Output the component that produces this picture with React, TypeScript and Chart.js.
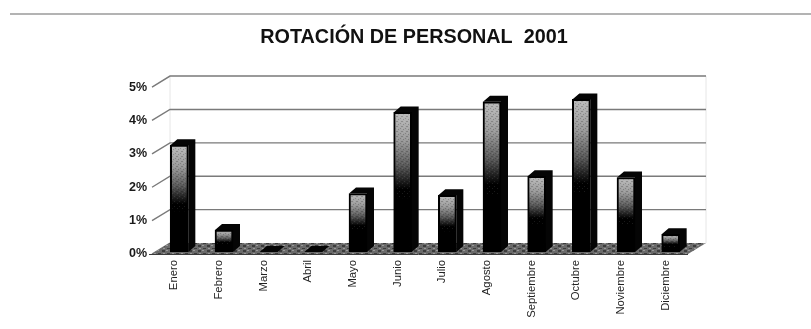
import React, { useEffect, useRef } from "react";
import { Chart, registerables } from "chart.js";

Chart.register(...registerables);

const months = [
  "Enero", "Febrero", "Marzo", "Abril", "Mayo", "Junio",
  "Julio", "Agosto", "Septiembre", "Octubre", "Noviembre", "Diciembre",
];
const rotation = [3.2, 0.66, 0, 0, 1.75, 4.18, 1.7, 4.5, 2.27, 4.57, 2.23, 0.53];
const percentTicks = [0, 1, 2, 3, 4, 5];
const chartTitle = "ROTACIÓN DE PERSONAL  2001";

// Oblique offsets of the pseudo-3D box
const wallDx = 18;
const wallDy = -11;
const barDx = 5;
const barDy = -2;
const barDepthX = 7;
const barDepthY = -6;

// Small repeating tiles for the speckled floor and bar faces
function makeFloorPattern(ctx: CanvasRenderingContext2D) {
  const tile = document.createElement("canvas");
  tile.width = 9;
  tile.height = 5;
  const t = tile.getContext("2d")!;
  t.fillStyle = "#6a6a6a";
  t.fillRect(0, 0, 9, 5);
  t.fillStyle = "#3c3c3c";
  t.fillRect(0, 0, 3, 2);
  t.fillRect(5, 3, 3, 1);
  t.fillStyle = "#999999";
  t.fillRect(4, 0, 2, 1);
  t.fillRect(1, 3, 2, 1);
  return ctx.createPattern(tile, "repeat");
}

function makeGrainPattern(ctx: CanvasRenderingContext2D) {
  const tile = document.createElement("canvas");
  tile.width = 5;
  tile.height = 5;
  const t = tile.getContext("2d")!;
  t.fillStyle = "rgba(0,0,0,0.2)";
  t.fillRect(0, 0, 1, 1);
  t.fillRect(3, 1, 1, 1);
  t.fillRect(1, 3, 2, 1);
  t.fillStyle = "rgba(255,255,255,0.1)";
  t.fillRect(2, 0, 1, 1);
  t.fillRect(4, 3, 1, 1);
  return ctx.createPattern(tile, "repeat");
}

const boxPlugin = {
  id: "obliqueBox",
  afterLayout(chart: any) {
    // The heading sits a little right of the canvas centre
    chart.titleBlock.left += 9;
    chart.titleBlock.right += 9;
  },
  beforeDraw(chart: any) {
    const { ctx, width } = chart;
    // Rule across the top of the page
    ctx.save();
    ctx.strokeStyle = "#9a9a9a";
    ctx.lineWidth = 1.5;
    ctx.beginPath();
    ctx.moveTo(10, 14);
    ctx.lineTo(width, 14);
    ctx.stroke();
    ctx.restore();
  },
  beforeDatasetsDraw(chart: any) {
    const { ctx, chartArea: a, scales } = chart;
    const y = scales.y;
    ctx.save();

    // Faint back wall edges
    ctx.strokeStyle = "#e6e6e6";
    ctx.lineWidth = 1;
    ctx.beginPath();
    ctx.moveTo(a.left + wallDx, a.top + wallDy);
    ctx.lineTo(a.left + wallDx, a.bottom + wallDy);
    ctx.moveTo(a.right + wallDx, a.top + wallDy);
    ctx.lineTo(a.right + wallDx, a.bottom + wallDy);
    ctx.stroke();

    // Gridlines on the back wall, joined to the axis by slanted ticks
    ctx.strokeStyle = "#7a7a7a";
    ctx.lineWidth = 1.4;
    for (const v of percentTicks) {
      const py = y.getPixelForValue(v);
      ctx.beginPath();
      ctx.moveTo(a.left, py);
      ctx.lineTo(a.left + wallDx, py + wallDy);
      if (v > 0) ctx.lineTo(a.right + wallDx, py + wallDy);
      ctx.stroke();
    }

    // Floor
    ctx.fillStyle = makeFloorPattern(ctx);
    ctx.beginPath();
    ctx.moveTo(a.left, a.bottom);
    ctx.lineTo(a.left + wallDx, a.bottom + wallDy);
    ctx.lineTo(a.right + wallDx, a.bottom + wallDy);
    ctx.lineTo(a.right, a.bottom);
    ctx.closePath();
    ctx.fill();
    ctx.strokeStyle = "#3a3a3a";
    ctx.lineWidth = 1;
    ctx.beginPath();
    ctx.moveTo(a.left - 3, a.bottom + 0.5);
    ctx.lineTo(a.right, a.bottom + 0.5);
    ctx.stroke();
    ctx.restore();
  },
  beforeDatasetDraw(chart: any, args: any) {
    const { ctx } = chart;
    ctx.save();
    ctx.translate(barDx, barDy);
    // Top and right faces behind each front face
    ctx.fillStyle = "#050505";
    for (const bar of args.meta.data) {
      const { x, y: top, base, width } = bar.getProps(["x", "y", "base", "width"], true);
      const l = x - width / 2;
      const r = x + width / 2;
      ctx.beginPath();
      ctx.moveTo(l, top);
      ctx.lineTo(l + barDepthX, top + barDepthY);
      ctx.lineTo(r + barDepthX, top + barDepthY);
      ctx.lineTo(r + barDepthX, base + barDepthY);
      ctx.lineTo(r, base);
      ctx.lineTo(r, top);
      ctx.closePath();
      ctx.fill();
    }
  },
  afterDatasetDraw(chart: any, args: any) {
    const { ctx } = chart;
    // Speckle over the lit part of each front face
    ctx.fillStyle = makeGrainPattern(ctx);
    for (const bar of args.meta.data) {
      const { x, y: top, base, width } = bar.getProps(["x", "y", "base", "width"], true);
      if (base - top < 4) continue;
      ctx.fillRect(x - width / 2 + 2, top + 2, width - 4, (base - top) * 0.6);
    }
    ctx.restore();
  },
};

// Each front face fades from light grey at its top to black further down
function frontFill(c: any) {
  const { chart, parsed } = c;
  if (!parsed || !chart.chartArea) return "#000";
  const y = chart.scales.y;
  const top = y.getPixelForValue(parsed.y);
  const base = y.getPixelForValue(0);
  const g = chart.ctx.createLinearGradient(0, top, 0, base);
  g.addColorStop(0, "#bcbcbc");
  g.addColorStop(0.2, "#9a9a9a");
  g.addColorStop(0.38, "#5a5a5a");
  g.addColorStop(0.55, "#000000");
  g.addColorStop(1, "#000000");
  return g;
}

export default function App() {
  const ref = useRef<HTMLCanvasElement>(null);

  useEffect(() => {
    if (!ref.current) return;
    const chart = new Chart(ref.current, {
      type: "bar",
      data: {
        labels: months,
        datasets: [
          {
            data: rotation,
            backgroundColor: frontFill,
            borderColor: "#000000",
            borderWidth: 2,
            barThickness: 18,
            clip: false,
          } as any,
        ],
      },
      plugins: [boxPlugin],
      options: {
        animation: false,
        responsive: false,
        layout: { padding: { left: 122, right: 123, top: 26, bottom: 0 } },
        plugins: {
          legend: { display: false },
          tooltip: { enabled: false },
          title: {
            display: true,
            text: chartTitle,
            color: "#111111",
            font: { family: "'Liberation Sans'", size: 19.8, weight: "bold" },
            padding: { top: 0, bottom: 37.3 },
          },
        },
        scales: {
          x: {
            grid: { display: false },
            border: { display: false },
            afterFit: (s: any) => {
              s.height = 75;
            },
            ticks: {
              autoSkip: false,
              minRotation: 90,
              maxRotation: 90,
              color: "#222222",
              padding: -2,
              font: { family: "'Liberation Sans'", size: 11.3 },
            },
          },
          y: {
            min: 0,
            max: 5,
            afterFit: (s: any) => {
              s.width = 30;
            },
            grid: { display: false },
            border: { display: false },
            ticks: {
              stepSize: 1,
              padding: -3,
              color: "#1a1a1a",
              font: { family: "'Liberation Sans'", size: 12.5, weight: "bold" },
              callback: (v: any) => `${v}%`,
            },
          },
        },
      },
    });
    return () => chart.destroy();
  }, []);

  return (
    <div style={{ position: "absolute", left: 0, top: 0, width: 811, height: 329 }}>
      <canvas ref={ref} width={811} height={329} style={{ display: "block" }} />
    </div>
  );
}
